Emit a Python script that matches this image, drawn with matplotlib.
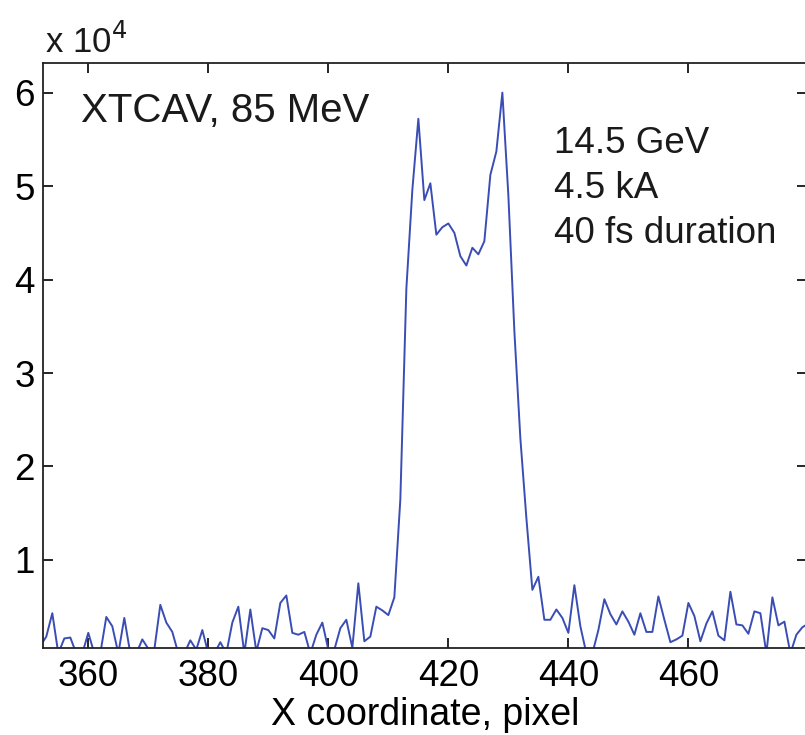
import matplotlib
matplotlib.use("Agg")
import matplotlib.pyplot as plt

plt.rcParams['font.family'] = ['Liberation Sans', 'DejaVu Sans']

# Horizontal pixel index along the XTCAV screen
x_pixel = list(range(352, 481))

# Projected intensity (units of 10^4 counts)
intensity = [
    0.08, 0.18, 0.43, 0.00, 0.16, 0.17, 0.00, 0.00, 0.22, 0.00,   # 352-361
    0.00, 0.39, 0.29, 0.00, 0.38, 0.00, 0.00, 0.15, 0.05, 0.04,   # 362-371
    0.52, 0.33, 0.23, 0.00, 0.00, 0.14, 0.04, 0.25, 0.00, 0.00,   # 372-381
    0.12, 0.00, 0.33, 0.50, 0.00, 0.47, 0.02, 0.27, 0.25, 0.16,   # 382-391
    0.54, 0.62, 0.22, 0.20, 0.23, 0.00, 0.20, 0.33, 0.04, 0.04,   # 392-401
    0.27, 0.36, 0.06, 0.75, 0.13, 0.18, 0.50, 0.46, 0.41, 0.60,   # 402-411
    1.65, 3.90, 4.96, 5.72, 4.85, 5.03, 4.48, 4.56, 4.60, 4.50,   # 412-421
    4.25, 4.15, 4.34, 4.27, 4.41, 5.12, 5.37, 6.00, 4.90, 3.45,   # 422-431
    2.30, 1.45, 0.68, 0.82, 0.36, 0.36, 0.47, 0.38, 0.22, 0.73,   # 432-441
    0.29, 0.00, 0.00, 0.25, 0.58, 0.42, 0.31, 0.45, 0.34, 0.20,   # 442-451
    0.43, 0.23, 0.23, 0.61, 0.36, 0.12, 0.15, 0.19, 0.54, 0.40,   # 452-461
    0.13, 0.32, 0.45, 0.19, 0.14, 0.66, 0.31, 0.30, 0.21, 0.45,   # 462-471
    0.43, 0.00, 0.60, 0.30, 0.34, 0.00, 0.20, 0.28, 0.32,         # 472-480
]

x_ticks = [360, 380, 400, 420, 440, 460]
y_ticks = [1, 2, 3, 4, 5, 6]
beam_info = ["14.5 GeV", "4.5 kA", "40 fs duration"]

W, H = 805, 735
fig = plt.figure(figsize=(W / 100, H / 100), dpi=100)
left, right, bottom, top = 43.3, 806.6, 648.0, 62.7
ax = fig.add_axes([left / W, 1 - bottom / H, (right - left) / W, (bottom - top) / H])

ax.plot(x_pixel, intensity, color='#3a4db5', linewidth=1.4)

ax.set_xlim(352.5, 479.7)
ax.set_ylim(0.058, 6.32)
ax.set_xticks(x_ticks)
ax.set_yticks(y_ticks)
ax.tick_params(direction='in', length=7, width=1.2, top=True, right=True,
               labelsize=26.5, colors='black')
ax.tick_params(axis='x', pad=8)
ax.tick_params(axis='y', pad=6)
for side in ax.spines.values():
    side.set_linewidth(1.3)
    side.set_color('#222222')

ax.set_xlabel("X coordinate, pixel", fontsize=27, labelpad=2)

def fig_text(px, py, s, **kw):
    fig.text(px / W, 1 - py / H, s, ha='left', va='baseline', color='#1a1a1a', **kw)

fig_text(81, 122, "XTCAV, 85 MeV", fontsize=29)
for i, line in enumerate(beam_info):
    fig_text(554, 153 + 45 * i, line, fontsize=26.5)

fig_text(45, 53, r"x 10$^{4}$", fontsize=25)

fig.savefig("out.png", dpi=100)
